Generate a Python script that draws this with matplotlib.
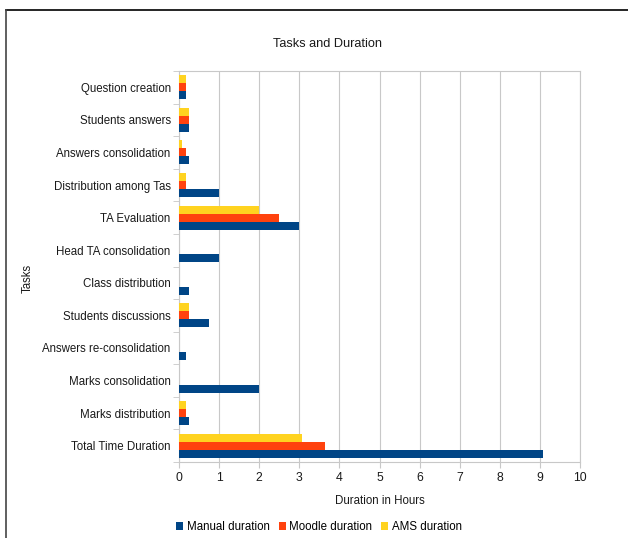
import matplotlib
matplotlib.use("Agg")
import matplotlib.pyplot as plt
import numpy as np
from matplotlib.lines import Line2D
from matplotlib.patches import Patch

plt.rcParams['font.family'] = ['Liberation Sans', 'DejaVu Sans']

# Data (hours)
tasks = ['Question creation', 'Students answers', 'Answers consolidation',
         'Distribution among Tas', 'TA Evaluation', 'Head TA consolidation',
         'Class distribution', 'Students discussions', 'Answers re-consolidation',
         'Marks consolidation', 'Marks distribution', 'Total Time Duration']
manual = [0.17, 0.25, 0.25, 1.0, 3.0, 1.0, 0.25, 0.75, 0.17, 2.0, 0.25, 9.07]
moodle = [0.17, 0.25, 0.17, 0.17, 2.5, 0.0, 0.0, 0.25, 0.0, 0.0, 0.17, 3.64]
ams = [0.17, 0.25, 0.08, 0.17, 2.0, 0.0, 0.0, 0.25, 0.0, 0.0, 0.17, 3.06]
series_names = ['Manual duration', 'Moodle duration', 'AMS duration']
colors = ['#004586', '#ff420e', '#ffd320']

fs = 8.3
txt = '#1a1a1a'

fig = plt.figure(figsize=(6.28, 5.38), dpi=100)
ax = fig.add_axes([179/628, 1 - 462/538, (580 - 179)/628, (462 - 71)/538])

y = np.arange(len(tasks))
h = 0.245
ax.barh(y + h, manual, height=h, color=colors[0], edgecolor='none', zorder=3)
ax.barh(y, moodle, height=h, color=colors[1], edgecolor='none', zorder=3)
ax.barh(y - h, ams, height=h, color=colors[2], edgecolor='none', zorder=3)

ax.set_ylim(len(tasks) - 0.5, -0.5)
ax.set_yticks(y)
ax.set_yticklabels(tasks, fontsize=fs, color=txt)
ax.set_yticks(np.arange(len(tasks) + 1) - 0.5, minor=True)
ax.tick_params(axis='y', which='major', length=0, pad=6)
ax.tick_params(axis='y', which='minor', length=4, color='#c8c8c8')

ax.set_xlim(0, 10)
ax.set_xticks(range(11))
ax.tick_params(axis='x', labelsize=fs + 0.5, length=4, color='#c8c8c8', labelcolor=txt, pad=3)
ax.grid(True, axis='x', color='#c8c8c8', linewidth=0.8, zorder=0)

for s in ax.spines.values():
    s.set_color('#c8c8c8')
    s.set_linewidth(0.8)

ax.set_xlabel('Duration in Hours', fontsize=fs, color=txt, labelpad=8)
fig.text(28/628, 1 - 278/538, 'Tasks', rotation=90, fontsize=fs,
         ha='center', va='center', color=txt)
fig.text(327/628, 1 - 44/538, 'Tasks and Duration', fontsize=9.2,
         ha='center', va='center', color=txt)

handles = [Patch(facecolor=c, edgecolor='none') for c in colors]
fig.legend(handles, series_names, loc='center', bbox_to_anchor=(319/628, 1 - 527/538),
           ncol=3, frameon=False, fontsize=fs, handlelength=0.6, handleheight=0.8,
           handletextpad=0.3, columnspacing=0.8)

# outer frame (top and left edges)
fig.add_artist(Line2D([6/628, 1], [1 - 10/538, 1 - 10/538], color='black', linewidth=1.2,
                      transform=fig.transFigure))
fig.add_artist(Line2D([6/628, 6/628], [0, 1 - 10/538], color='#444444', linewidth=1.2,
                      transform=fig.transFigure))

fig.savefig('out.png', dpi=100)
